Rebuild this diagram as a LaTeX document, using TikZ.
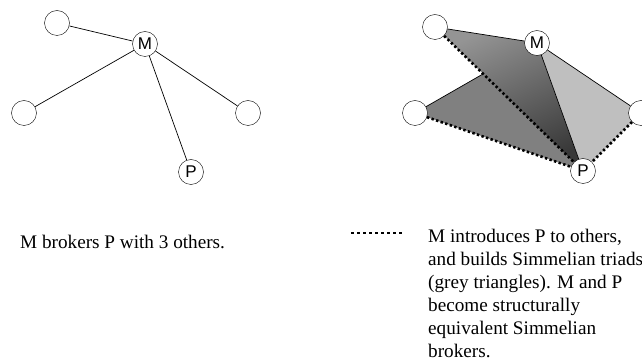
\documentclass[tikz,border=0pt]{standalone}
\usepackage{fontspec}
\setmainfont{Liberation Serif}
\setsansfont{Liberation Sans}
\usetikzlibrary{backgrounds}
\begin{document}
\begin{tikzpicture}[
  x=1pt, y=-1pt,
  actor/.style={draw, circle, fill=white, minimum size=25pt, inner sep=0pt,
                font=\sffamily\fontsize{17}{17}\selectfont},
  tie/.style={draw, line width=0.7pt},
  intro/.style={line width=2.6pt, dash pattern=on 2.4pt off 2.4pt},
  caption/.style={inner sep=0pt, align=left, anchor=base west,
                  font=\fontsize{19.2}{23}\selectfont}
]
\useasboundingbox (0,0) rectangle (642,363);
% before: M brokers P
\node[actor] (ltl) at (57,23) {};
\node[actor] (lm) at (145,44) {M};
\node[actor] (ll) at (24,113) {};
\node[actor] (lr) at (248,113) {};
\node[actor] (lp) at (191,172) {P};
\draw[tie] (lm) -- (ltl);
\draw[tie] (lm) -- (ll);
\draw[tie] (lm) -- (lr);
\draw[tie] (lm) -- (lp);
% after: Simmelian triads
\node[actor] (rtl) at (435,27) {};
\node[actor] (rm) at (537,43) {M};
\node[actor] (rl) at (415,113) {};
\node[actor] (rr) at (641,113) {};
\node[actor] (rp) at (583,171) {P};
\begin{pgfonlayer}{background}
  \fill[black!50] (rl.center) -- (rm.center) -- (rp.center) -- cycle;
  \draw[tie] (rl) -- (rm);
  \shade[top color=black!42, bottom color=black!78, shading angle=25]
    (rtl.center) -- (rm.center) -- (rp.center) -- cycle;
  \fill[black!25] (rm.center) -- (rr.center) -- (rp.center) -- cycle;
  \draw[tie] (rtl) -- (rm);
  \draw[tie] (rm) -- (rp);
  \draw[tie] (rm) -- (rr);
  \draw[intro] (rtl) -- (rp);
  \draw[intro] (rl) -- (rp);
  \draw[intro] (rr) -- (rp);
\end{pgfonlayer}
% captions
\node[caption] (before) at (20,248) {M brokers P with 3 others.};
\coordinate (keya) at (351,233);
\coordinate (keyb) at (404,233);
\draw[intro, dash pattern=on 3pt off 3pt] (keya) -- (keyb);
\node[caption] (after) at (428,357) {M introduces P to others,\\and builds Simmelian triads\\(grey triangles). M and P\\become structurally\\equivalent Simmelian\\brokers.};
\end{tikzpicture}
\end{document}
